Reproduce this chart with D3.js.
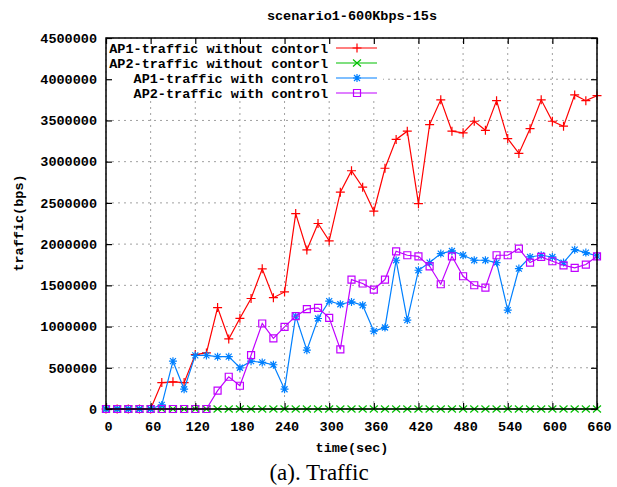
<!DOCTYPE html>
<html><head><meta charset="utf-8">
<script src="https://cdn.jsdelivr.net/npm/d3@7"></script>
<style>
html,body{margin:0;padding:0;background:#fff;}
text{font-family:"Liberation Mono","DejaVu Sans Mono",monospace;font-weight:bold;font-size:13.5px;fill:#000;}
</style></head>
<body><svg id="c" width="617" height="487"></svg>
<script>
const times = [0,15,30,45,60,75,90,105,120,135,150,165,180,195,210,225,240,255,270,285,300,315,330,345,360,375,390,405,420,435,450,465,480,495,510,525,540,555,570,585,600,615,630,645,660];
const ap1NoCtrl = [0,0,0,0,0,320000,330000,320000,660000,680000,1230000,850000,1100000,1340000,1700000,1350000,1420000,2370000,1930000,2250000,2040000,2630000,2890000,2690000,2400000,2920000,3270000,3370000,2490000,3450000,3750000,3370000,3350000,3490000,3380000,3740000,3280000,3100000,3400000,3750000,3490000,3430000,3810000,3740000,3800000];
const ap2NoCtrl = [0,0,0,0,0,0,0,0,0,0,0,0,0,0,0,0,0,0,0,0,0,0,0,0,0,0,0,0,0,0,0,0,0,0,0,0,0,0,0,0,0,0,0,0,0];
const ap1Ctrl = [0,0,0,0,0,50000,580000,240000,650000,650000,635000,635000,500000,580000,565000,537000,240000,1126000,714000,1098000,1308000,1271000,1299000,1259000,944000,989000,1804000,1078000,1683000,1776000,1885000,1917000,1865000,1804000,1804000,1776000,1199000,1703000,1844000,1865000,1844000,1776000,1933000,1897000,1856000];
const ap2Ctrl = [0,0,0,0,0,0,0,0,0,0,222000,391000,282000,654000,1037000,856000,997000,1126000,1211000,1227000,1106000,723000,1570000,1522000,1449000,1570000,1913000,1865000,1852000,1731000,1513000,1852000,1610000,1501000,1473000,1865000,1865000,1945000,1776000,1844000,1792000,1743000,1711000,1752000,1852000];
const seriesNames = ["AP1-traffic without contorl","AP2-traffic without contorl","AP1-traffic with control","AP2-traffic with control"];
const seriesColors = ["#ff0000","#00c000","#0080ff","#c000ff"];
const seriesMarkers = ["plus","cross","star","square"];
const xTicks = [0,60,120,180,240,300,360,420,480,540,600,660];
const yTicks = [0,500000,1000000,1500000,2000000,2500000,3000000,3500000,4000000,4500000];
const titleText = "scenario1-600Kbps-15s";
const xLabel = "time(sec)";
const yLabel = "traffic(bps)";
const caption = "(a). Traffic";

const svg = d3.select("#c");
const L=106,R=597,T=38,B=409;
const x = d3.scaleLinear().domain([0,660]).range([L,R]);
const y = d3.scaleLinear().domain([0,4500000]).range([B,T]);

// grid
const g = svg.append("g");
g.selectAll(".gx").data(xTicks).enter().append("line")
 .attr("x1",d=>x(d)).attr("x2",d=>x(d)).attr("y1",B).attr("y2",T)
 .attr("stroke","#a0a0a0").attr("stroke-width",1).attr("stroke-dasharray","2,4");
g.selectAll(".gy").data(yTicks).enter().append("line")
 .attr("y1",d=>y(d)).attr("y2",d=>y(d)).attr("x1",L).attr("x2",R)
 .attr("stroke","#a0a0a0").attr("stroke-width",1).attr("stroke-dasharray","2,4");

// legend background (opaque)
svg.append("rect").attr("x",L+1).attr("y",T+1).attr("width",382-L).attr("height",99-T).attr("fill","#fff");

function marker(sel, type, color){
  let d;
  if(type==="plus") d=`M${-4.5},0H4.5M0,${-4.5}V4.5`;
  else if(type==="cross") d=`M-4,-3.5L4,3.5M-4,3.5L4,-3.5`;
  else if(type==="star") d=`M-4,0H4M0,-4V4M-3,-3L3,3M-3,3L3,-3`;
  else d=`M-3.5,-3.5H3.5V3.5H-3.5Z`;
  sel.append("path").attr("d",d).attr("fill","none").attr("stroke",color).attr("stroke-width",1.2);
}

const allSeries=[ap1NoCtrl,ap2NoCtrl,ap1Ctrl,ap2Ctrl];
const line=d3.line().x((d,i)=>x(times[i])).y(d=>y(d));
allSeries.forEach((vals,k)=>{
  const sg=svg.append("g");
  sg.append("path").datum(vals).attr("d",line).attr("fill","none")
    .attr("stroke",seriesColors[k]).attr("stroke-width",1.2);
  vals.forEach((v,i)=>{
    const m=sg.append("g").attr("transform",`translate(${x(times[i])},${y(v)})`);
    marker(m,seriesMarkers[k],seriesColors[k]);
  });
});

// legend
const rowY=[48,63,78,93];
seriesNames.forEach((n,k)=>{
  svg.append("text").attr("x",328).attr("y",rowY[k]).attr("dy","0.35em").attr("text-anchor","end").text(n);
  svg.append("line").attr("x1",336).attr("x2",377).attr("y1",rowY[k]).attr("y2",rowY[k])
    .attr("stroke",seriesColors[k]).attr("stroke-width",1.2);
  const m=svg.append("g").attr("transform",`translate(357,${rowY[k]})`);
  marker(m,seriesMarkers[k],seriesColors[k]);
});

// border
svg.append("rect").attr("x",L).attr("y",T).attr("width",R-L).attr("height",B-T)
 .attr("fill","none").attr("stroke","#000").attr("stroke-width",1.5);

// ticks (inward, mirrored) + labels
const xa=d3.axisBottom(x).tickValues(xTicks).tickSize(-6).tickPadding(12).tickFormat(d3.format("d"));
const ya=d3.axisLeft(y).tickValues(yTicks).tickSize(-6).tickPadding(10).tickFormat(d3.format("d"));
const xg=svg.append("g").attr("transform",`translate(0,${B})`).call(xa);
const yg=svg.append("g").attr("transform",`translate(${L},0)`).call(ya);
const xt=svg.append("g").attr("transform",`translate(0,${T})`).call(d3.axisTop(x).tickValues(xTicks).tickSize(-6).tickFormat(""));
const yr=svg.append("g").attr("transform",`translate(${R},0)`).call(d3.axisRight(y).tickValues(yTicks).tickSize(-6).tickFormat(""));
[xg,yg,xt,yr].forEach(a=>{a.select(".domain").remove();a.selectAll(".tick line").attr("stroke","#000").attr("stroke-width",1.2);
 a.selectAll("text").style("font-family",'"Liberation Mono","DejaVu Sans Mono",monospace').style("font-weight","bold").style("font-size","13.5px").attr("fill","#000");});
yg.selectAll("text").attr("x",-9);
xg.selectAll("text").attr("dx",2);

// titles
svg.append("text").attr("x",352).attr("y",15).attr("dy","0.35em").attr("text-anchor","middle").text(titleText);
svg.append("text").attr("x",352).attr("y",447).attr("dy","0.35em").attr("text-anchor","middle").text(xLabel);
svg.append("text").attr("transform","translate(18,223) rotate(-90)").attr("dy","0.35em").attr("text-anchor","middle").text(yLabel);
svg.append("text").attr("x",319).attr("y",472).attr("dy","0.35em").attr("text-anchor","middle")
 .style("font-family",'"Liberation Serif","Times New Roman",serif').style("font-weight","normal").style("font-size","23px").text(caption);
</script></body></html>
